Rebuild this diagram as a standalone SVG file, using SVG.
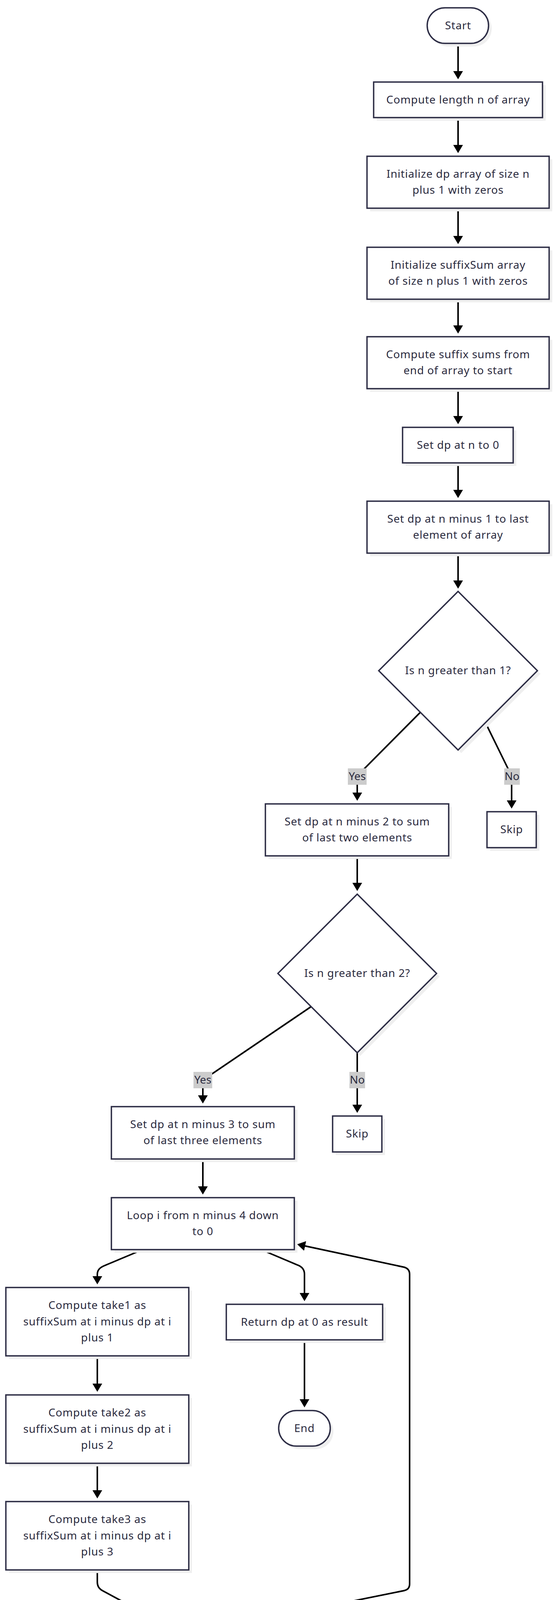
<svg xmlns="http://www.w3.org/2000/svg" width="1420" height="4269" viewBox="0 0 1420 4269">
<defs>
<style>
.bg{fill:#ffffff}
.box{fill:#ffffff;stroke:#2c2c44;stroke-width:3.5}
.sh{fill:#efefef}
.t{font-family:"Noto Sans","Open Sans","DejaVu Sans",sans-serif;font-size:28px;fill:#2a2a3e;text-anchor:middle;letter-spacing:0.8px}
.lt{font-family:"Noto Sans","Open Sans","DejaVu Sans",sans-serif;font-size:28px;fill:#2a2a3e;text-anchor:middle}
.e{fill:none;stroke:#000000;stroke-width:4}
.lb{fill:#cccccc}
</style>
<marker id="ah" markerUnits="userSpaceOnUse" markerWidth="21" markerHeight="25" viewBox="0 0 21 25" refX="13" refY="12.5" orient="auto">
<path d="M0,0 L21,12.5 L0,25 z" fill="#000000"/>
</marker>
</defs>
<rect class="bg" x="0" y="0" width="1420" height="4269"/>

<g id="connectors">
<path class="e" marker-end="url(#ah)" d="M1172,111 L1172,195"/>
<path class="e" marker-end="url(#ah)" d="M1172,301 L1172,384"/>
<path class="e" marker-end="url(#ah)" d="M1172,533 L1172,617"/>
<path class="e" marker-end="url(#ah)" d="M1172,766 L1172,846"/>
<path class="e" marker-end="url(#ah)" d="M1172,995 L1172,1078"/>
<path class="e" marker-end="url(#ah)" d="M1172,1185 L1172,1267"/>
<path class="e" marker-end="url(#ah)" d="M1172,1416 L1172,1499"/>
<path class="e" marker-end="url(#ah)" d="M1076,1823 L914,1986 L914,2042"/>
<path class="e" marker-end="url(#ah)" d="M1242,1850 L1300,1968 Q1309,1988 1309,2010 L1309,2062"/>
<path class="e" marker-end="url(#ah)" d="M914,2191 L914,2273"/>
<path class="e" marker-end="url(#ah)" d="M796,2577 L519,2765 L519,2817"/>
<path class="e" marker-end="url(#ah)" d="M914,2695 L914,2841"/>
<path class="e" marker-end="url(#ah)" d="M519,2967 L519,3050"/>
<path class="e" marker-end="url(#ah)" d="M365,3199 L265,3241 Q249,3248 249,3262 L249,3280"/>
<path class="e" marker-end="url(#ah)" d="M668,3199 L765,3240 Q779,3247 779,3262 L779,3323"/>
<path class="e" marker-end="url(#ah)" d="M249,3471 L249,3555"/>
<path class="e" marker-end="url(#ah)" d="M779,3430 L779,3595"/>
<path class="e" marker-end="url(#ah)" d="M249,3746 L249,3828"/>
<path class="e" marker-end="url(#ah)" d="M249,4019 L249,4050 Q249,4066 264,4073 L338,4113"/>
<path class="e" marker-end="url(#ah)" d="M747,4130 L1034,4072 Q1048,4069 1048,4055 L1048,3262 Q1048,3248 1034,3244 L768,3187"/>
</g>

<g id="edge-labels">
<g id="label-yes-1"><rect class="lb" x="890" y="1967" width="48" height="42"/><text class="lt" x="914" y="1997">Yes</text></g>
<g id="label-no-1"><rect class="lb" x="1290" y="1967" width="40" height="42"/><text class="lt" x="1310" y="1997">No</text></g>
<g id="label-yes-2"><rect class="lb" x="495" y="2744" width="48" height="42"/><text class="lt" x="519" y="2774">Yes</text></g>
<g id="label-no-2"><rect class="lb" x="894" y="2744" width="40" height="42"/><text class="lt" x="914" y="2774">No</text></g>
</g>

<g id="start">
<rect class="sh" x="1101" y="28" width="157" height="91" rx="45.5"/>
<rect class="box" x="1093" y="20" width="157" height="91" rx="45.5"/>
<text class="t" x="1172" y="75">Start</text>
</g>

<g id="compute-length">
<rect class="sh" x="964" y="218" width="432" height="91"/>
<rect class="box" x="956" y="210" width="432" height="91"/>
<text class="t" x="1172" y="265">Compute length n of array</text>
</g>

<g id="init-dp">
<rect class="sh" x="947" y="408" width="466" height="133"/>
<rect class="box" x="939" y="400" width="466" height="133"/>
<text class="t"><tspan x="1172" y="455">Initialize dp array of size n</tspan><tspan x="1172" y="496">plus 1 with zeros</tspan></text>
</g>

<g id="init-suffix">
<rect class="sh" x="947" y="641" width="466" height="133"/>
<rect class="box" x="939" y="633" width="466" height="133"/>
<text class="t"><tspan x="1172" y="688">Initialize suffixSum array</tspan><tspan x="1172" y="729">of size n plus 1 with zeros</tspan></text>
</g>

<g id="compute-suffix">
<rect class="sh" x="947" y="870" width="466" height="133"/>
<rect class="box" x="939" y="862" width="466" height="133"/>
<text class="t"><tspan x="1172" y="917">Compute suffix sums from</tspan><tspan x="1172" y="958">end of array to start</tspan></text>
</g>

<g id="set-dp-n">
<rect class="sh" x="1038" y="1102" width="283" height="91"/>
<rect class="box" x="1030" y="1094" width="283" height="91"/>
<text class="t" x="1172" y="1149">Set dp at n to 0</text>
</g>

<g id="set-dp-n1">
<rect class="sh" x="947" y="1291" width="466" height="133"/>
<rect class="box" x="939" y="1283" width="466" height="133"/>
<text class="t"><tspan x="1172" y="1338">Set dp at n minus 1 to last</tspan><tspan x="1172" y="1379">element of array</tspan></text>
</g>

<g id="decision-1">
<polygon class="sh" points="1180,1522 1383,1725 1180,1928 977,1725"/>
<polygon class="box" points="1172,1514 1375,1717 1172,1920 969,1717"/>
<text class="t" x="1172" y="1726">Is n greater than 1?</text>
</g>

<g id="set-dp-n2">
<rect class="sh" x="687" y="2066" width="469" height="133"/>
<rect class="box" x="679" y="2058" width="469" height="133"/>
<text class="t"><tspan x="914" y="2113">Set dp at n minus 2 to sum</tspan><tspan x="914" y="2154">of last two elements</tspan></text>
</g>

<g id="skip-1">
<rect class="sh" x="1254" y="2086" width="126" height="92"/>
<rect class="box" x="1246" y="2078" width="126" height="92"/>
<text class="t" x="1309" y="2133">Skip</text>
</g>

<g id="decision-2">
<polygon class="sh" points="922,2297 1125,2500 922,2703 719,2500"/>
<polygon class="box" points="914,2289 1117,2492 914,2695 711,2492"/>
<text class="t" x="914" y="2501">Is n greater than 2?</text>
</g>

<g id="set-dp-n3">
<rect class="sh" x="293" y="2841" width="468" height="134"/>
<rect class="box" x="285" y="2833" width="468" height="134"/>
<text class="t"><tspan x="519" y="2888">Set dp at n minus 3 to sum</tspan><tspan x="519" y="2929">of last three elements</tspan></text>
</g>

<g id="skip-2">
<rect class="sh" x="859" y="2865" width="126" height="92"/>
<rect class="box" x="851" y="2857" width="126" height="92"/>
<text class="t" x="914" y="2912">Skip</text>
</g>

<g id="loop">
<rect class="sh" x="293" y="3074" width="468" height="133"/>
<rect class="box" x="285" y="3066" width="468" height="133"/>
<text class="t"><tspan x="519" y="3121">Loop i from n minus 4 down</tspan><tspan x="519" y="3162">to 0</tspan></text>
</g>

<g id="take1">
<rect class="sh" x="23" y="3304" width="468" height="175"/>
<rect class="box" x="15" y="3296" width="468" height="175"/>
<text class="t"><tspan x="249" y="3351">Compute take1 as</tspan><tspan x="249" y="3393">suffixSum at i minus dp at i</tspan><tspan x="249" y="3434">plus 1</tspan></text>
</g>

<g id="return">
<rect class="sh" x="587" y="3347" width="400" height="91"/>
<rect class="box" x="579" y="3339" width="400" height="91"/>
<text class="t" x="779" y="3394">Return dp at 0 as result</text>
</g>

<g id="take2">
<rect class="sh" x="23" y="3579" width="468" height="175"/>
<rect class="box" x="15" y="3571" width="468" height="175"/>
<text class="t"><tspan x="249" y="3626">Compute take2 as</tspan><tspan x="249" y="3668">suffixSum at i minus dp at i</tspan><tspan x="249" y="3709">plus 2</tspan></text>
</g>

<g id="end">
<rect class="sh" x="721" y="3619" width="132" height="91" rx="45.5"/>
<rect class="box" x="713" y="3611" width="132" height="91" rx="45.5"/>
<text class="t" x="779" y="3666">End</text>
</g>

<g id="take3">
<rect class="sh" x="23" y="3852" width="468" height="175"/>
<rect class="box" x="15" y="3844" width="468" height="175"/>
<text class="t"><tspan x="249" y="3899">Compute take3 as</tspan><tspan x="249" y="3941">suffixSum at i minus dp at i</tspan><tspan x="249" y="3982">plus 3</tspan></text>
</g>

<g id="set-max">
<rect class="sh" x="290" y="4126" width="465" height="133"/>
<rect class="box" x="282" y="4118" width="465" height="133"/>
<text class="t"><tspan x="514" y="4173">Set dp at i to maximum of</tspan><tspan x="514" y="4214">take1, take2, take3</tspan></text>
</g>
</svg>
